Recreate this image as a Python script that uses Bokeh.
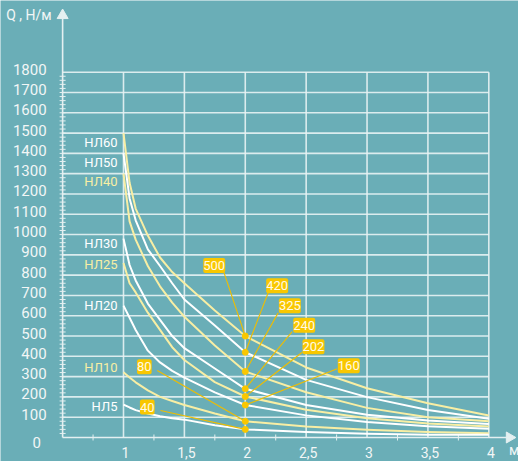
import math
from bokeh.plotting import figure
from bokeh.models import Range1d
from bokeh.core.properties import value
from bokeh.embed import file_html
from bokeh.resources import INLINE

# ---------------- data ----------------
span_m = [1, 1.05, 1.1, 1.2, 1.3, 1.4, 1.5, 1.75, 2, 2.5, 3, 3.5, 4]

q_nl60 = [1500, 1255, 1128, 995, 887, 815, 760, 626, 500, 345, 243, 169, 108]
q_nl50 = [1400, 1178, 1070, 927, 845, 760, 680, 552, 420, 284, 199, 136, 92]
q_nl40 = [1300, 1065, 975, 845, 745, 665, 595, 453, 325, 223, 146, 100, 80]
q_nl30 = [980, 850, 774, 660, 580, 500, 440, 340, 240, 160, 112, 84, 67]
q_nl25 = [860, 760, 715, 615, 530, 445, 382, 273, 202, 137, 95, 69, 54]
q_nl20 = [650, 590, 530, 428, 370, 328, 295, 222, 160, 109, 76, 55, 43]
q_nl10 = [322, 296, 272, 232, 200, 180, 160, 118, 80, 54, 38, 27, 21]
q_nl5 = [162, 148, 135, 118, 105, 95, 88, 60, 40, 27, 19, 14, 13]

series_names = ["НЛ60", "НЛ50", "НЛ40", "НЛ30", "НЛ25", "НЛ20", "НЛ10", "НЛ5"]
series_values = [q_nl60, q_nl50, q_nl40, q_nl30, q_nl25, q_nl20, q_nl10, q_nl5]
series_name_y = [1456, 1356, 1259, 955, 852, 650, 346, 155]

# values at span 2 m (callouts)
callout_x = 2
callout_text = ["500", "420", "325", "240", "202", "160", "80", "40"]
callout_q = [500, 420, 325, 240, 202, 160, 80, 40]
callout_box_x = [1.745, 2.262, 2.366, 2.484, 2.560, 2.850, 1.171, 1.195]
callout_box_y = [848, 748, 649, 553, 447, 353, 349, 150]
leader_x0 = [1.824, 2.188, 2.270, 2.385, 2.468, 2.755, 1.277, 1.304]
leader_y0 = [815, 713, 614, 522, 420, 339, 330, 133]

y_ticks = [100 * i for i in range(1, 19)]
x_ticks = [1, 1.5, 2, 2.5, 3, 3.5, 4]
x_tick_labels = ["1", "1,5", "2", "2,5", "3", "3,5", "4"]
x_minor = [0.75, 1.25, 1.75, 2.25, 2.75, 3.25, 3.75]
y_minor = [20 * i for i in range(1, 90)]

x_axis_start, x_axis_end = 0.5, 4.17
y_axis_end = 2080
grid_x_end, grid_y_end = 4, 1800

# ---------------- styles ----------------
BG = "#6aaeb7"
YEL = "#f8eea4"
WHITE = "#ffffff"
GOLD = "#f9c700"
LEADER = "#efbd00"
AXIS = "#e4f0f1"
TXT = "#f2f6f6"
FONT = value("Roboto")

p = figure(width=518, height=461,
           x_range=Range1d(-0.0101, 4.2438), y_range=Range1d(-118.26, 2153.3),
           x_axis_location=None, y_axis_location=None,
           toolbar_location=None, output_backend="svg",
           min_border=0, outline_line_color=None,
           background_fill_color=BG, border_fill_color=BG)
p.grid.visible = False
p.xgrid.grid_line_color = None
p.ygrid.grid_line_color = None

# grid
p.segment(x0=[x_axis_start] * len(y_ticks), y0=y_ticks, x1=[grid_x_end] * len(y_ticks), y1=y_ticks,
          line_color="#e8f3f4", line_width=1.6, line_alpha=0.9)
p.segment(x0=x_ticks, y0=[0] * len(x_ticks), x1=x_ticks, y1=[grid_y_end] * len(x_ticks),
          line_color="#e8f3f4", line_width=1.6, line_alpha=0.9)

# axes
p.segment(x0=[x_axis_start], y0=[0], x1=[x_axis_start], y1=[y_axis_end], line_color=AXIS, line_width=1.6)
p.segment(x0=[x_axis_start], y0=[0], x1=[x_axis_end], y1=[0], line_color=AXIS, line_width=1.6)
p.scatter(x=[x_axis_start], y=[y_axis_end], marker="triangle", size=11, fill_color=AXIS, line_color=AXIS)
p.scatter(x=[x_axis_end], y=[0], marker="triangle", size=11, angle=-math.pi / 2,
          fill_color=AXIS, line_color=AXIS)

# minor ticks
p.scatter(x=[x_axis_start] * len(y_minor), y=y_minor, marker="dash", size=6, line_color=AXIS, line_width=1)
p.scatter(x=x_minor, y=[0] * len(x_minor), marker="dash", angle=math.pi / 2, size=6,
          line_color=AXIS, line_width=1)

# tick labels
p.text(x=[x_axis_start] * len(y_ticks), y=y_ticks, text=[str(v) for v in y_ticks],
       x_offset=-16, y_offset=-3, text_align="right", text_baseline="middle",
       text_font=FONT, text_font_size="15px", text_color=TXT)
p.text(x=[x_axis_start], y=[0], text=["0"], x_offset=-26, y_offset=5, text_align="center",
       text_baseline="middle", text_font=FONT, text_font_size="15px", text_color=TXT)
p.text(x=x_ticks, y=[0] * len(x_ticks), text=x_tick_labels, x_offset=2, y_offset=15,
       text_align="center", text_baseline="middle", text_font=FONT, text_font_size="14px",
       text_color=TXT)
p.text(x=[4.165], y=[0], text=["м"], y_offset=13, text_align="left", text_baseline="middle",
       text_font=FONT, text_font_size="14px", text_color=TXT)
p.text(x=[x_axis_start], y=[y_axis_end], text=["Q , Н/м"], x_offset=-11, y_offset=0,
       text_align="right", text_baseline="middle", text_font=FONT, text_font_size="14px",
       text_color=TXT)

# curves
curve_colors = [YEL, WHITE, YEL, WHITE, YEL, WHITE, YEL, WHITE]
label_colors = [WHITE, WHITE, YEL, WHITE, YEL, WHITE, YEL, WHITE]
for name, vals, col in zip(series_names, series_values, curve_colors):
    p.line(x=span_m, y=vals, line_color=col, line_width=2, line_join="round")

p.text(x=[1] * len(series_names), y=series_name_y, text=series_names, x_offset=-6,
       text_align="right", text_baseline="middle", text_font=FONT, text_font_size="13px",
       text_color=label_colors)

# callouts
p.segment(x0=leader_x0, y0=leader_y0, x1=[callout_x] * len(callout_q), y1=callout_q,
          line_color=LEADER, line_width=1.1)
p.scatter(x=[callout_x] * len(callout_q), y=callout_q, size=6, fill_color=GOLD, line_color=GOLD)
p.text(x=callout_box_x, y=callout_box_y, text=callout_text, text_align="center",
       text_baseline="middle", text_font=FONT, text_font_size="13px", text_color="#fffbe8",
       background_fill_color=GOLD, border_radius=2, padding=(0, 3))

open("out.html", "w").write(file_html(p, INLINE))
